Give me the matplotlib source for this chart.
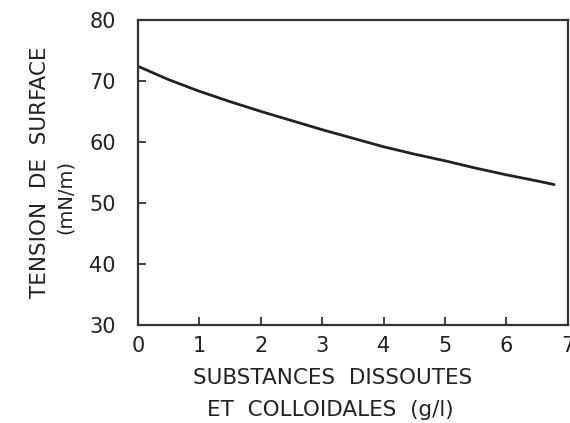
import matplotlib
matplotlib.use("Agg")
import matplotlib.pyplot as plt
import numpy as np

x_vals = [0, 0.5, 1, 1.5, 2, 2.5, 3, 3.5, 4, 4.5, 5, 5.5, 6, 6.5, 6.78]
y_vals = [72.4, 70.2, 68.3, 66.6, 65.0, 63.5, 62.0, 60.6, 59.2, 58.0, 56.9, 55.7, 54.6, 53.6, 53.0]
x_ticks = [0, 1, 2, 3, 4, 5, 6, 7]
y_ticks = [30, 40, 50, 60, 70, 80]

plt.rcParams['font.family'] = ['DejaVu Sans']
fig = plt.figure(figsize=(5.7, 4.23), dpi=100)
ax = fig.add_axes([0.242, 0.232, 0.754, 0.721])
ax.plot(x_vals, y_vals, color='#222222', lw=2.0, solid_capstyle='round')
ax.set_xlim(0, 7)
ax.set_ylim(30, 80)
ax.set_xticks(x_ticks)
ax.set_yticks(y_ticks)
ax.tick_params(direction='in', length=6, width=1.3, colors='#333333', labelsize=15)
ax.tick_params(axis='y', pad=16)
ax.tick_params(axis='x', pad=8)
for lab in ax.get_xticklabels() + ax.get_yticklabels():
    lab.set_color('#222222')
for s in ax.spines.values():
    s.set_linewidth(1.6)
    s.set_color('#333333')

fig.text(0.07, 0.593, "TENSION  DE  SURFACE", rotation=90, ha='center', va='center',
         fontsize=15.5, color='#222222')
fig.text(0.114, 0.534, "(mN/m)", rotation=90, ha='center', va='center',
         fontsize=14, color='#222222')
fig.text(0.583, 0.106, "SUBSTANCES  DISSOUTES", ha='center', va='center',
         fontsize=15.5, color='#222222')
fig.text(0.579, 0.031, "ET  COLLOIDALES  (g/l)", ha='center', va='center',
         fontsize=15.5, color='#222222')

fig.savefig("out.png", dpi=100)
